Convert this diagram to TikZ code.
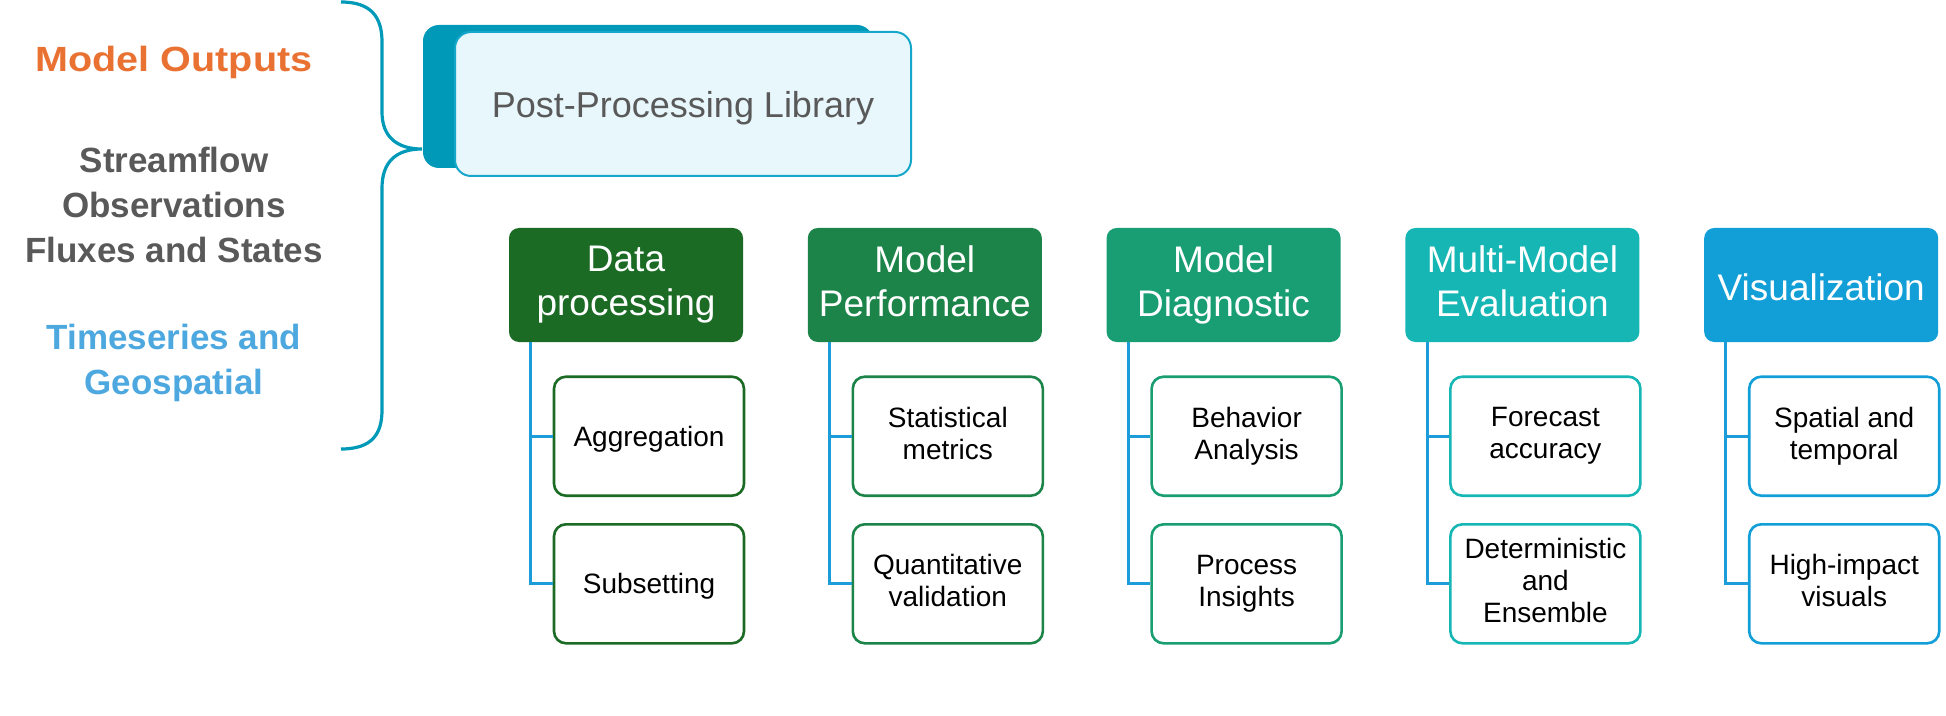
\documentclass[tikz,border=0pt]{standalone}
\usepackage{fontspec}
\setmainfont{Liberation Sans}
\usepackage{tikz}
\usetikzlibrary{positioning}
\definecolor{pplteal}{HTML}{009AB8}
\definecolor{pplframe}{HTML}{17A7CB}
\definecolor{ppllight}{HTML}{E8F7FC}
\definecolor{outorange}{HTML}{E97132}
\definecolor{obsgray}{HTML}{595959}
\definecolor{geoblue}{HTML}{4DA8DF}
\definecolor{linkblue}{HTML}{1C9DD9}
\definecolor{colA}{HTML}{1B6B25}
\definecolor{colB}{HTML}{1C8448}
\definecolor{colC}{HTML}{189E72}
\definecolor{colD}{HTML}{16B6B5}
\definecolor{colE}{HTML}{129FD7}

\begin{document}
\begin{tikzpicture}[
    x=0.5pt, y=-0.5pt,
    node distance=32pt,
    header/.style={rectangle, fill=#1, text=white, minimum width=117pt, minimum height=57pt, align=center, rounded corners=5pt, font=\fontsize{18.5}{22}\selectfont, execute at begin node=\rule{0pt}{19.5pt}, execute at end node=\rule[-4pt]{0pt}{4pt}},
    subbox/.style={rectangle, draw=#1, fill=white, line width=1.3pt, minimum width=95pt, minimum height=59.5pt, align=center, rounded corners=6pt, font=\fontsize{14}{16}\selectfont, execute at begin node=\rule{0pt}{13pt}, execute at end node=\rule[-3pt]{0pt}{3pt}},
    srctext/.style={align=center, font=\bfseries\fontsize{17.5}{22.5}\selectfont},
    branch/.style={line width=1.5pt, linkblue},
    brace/.style={line width=1.6pt, pplteal}
]
\useasboundingbox (0,0) rectangle (1946,716);

% Inputs
\node[srctext, text=outorange] (outputs) at (174,62) {\addfontfeatures{FakeStretch=1.13}Model Outputs};
\node[srctext, text=obsgray] (obs) at (174,205) {Streamflow\\Observations\\Fluxes and States};
\node[srctext, text=geoblue] (geo) at (174,363) {Timeseries and\\Geospatial};

% Library
\node[rectangle, fill=pplteal, minimum width=225pt, minimum height=71.5pt, rounded corners=8pt] (ppback) at (648,96.5) {};
\node[rectangle, draw=pplframe, fill=ppllight, line width=1pt, minimum width=228pt, minimum height=72pt, rounded corners=8pt, text=obsgray, text depth=0pt, font=\fontsize{18}{20}\selectfont] (pplib) at (683,104) {Post-Processing Library};
\coordinate (tip) at (422,149);
\draw[brace] (341,2) .. controls (372,2) and (382,18) .. (382,42) -- (382,112)
    .. controls (382,136) and (396,149) .. (tip)
    .. controls (396,149) and (382,162) .. (382,188) -- (382,410)
    .. controls (382,434) and (372,449) .. (341,449);

% Modules
\node[header=colA] (data) at (626,285) {Data\\processing};
\node[header=colB, right=of data] (perf) {Model\\Performance};
\node[header=colC, right=of perf] (diag) {Model\\Diagnostic};
\node[header=colD, right=of diag] (multi) {Multi-Model\\Evaluation};
\node[header=colE, right=of multi] (vis) {Visualization};

% Tasks
\node[subbox=colA, below=16.5pt of data, xshift=11.5pt] (aggr) {Aggregation};
\node[subbox=colA, below=13pt of aggr] (subset) {Subsetting};
\node[subbox=colB, below=16.5pt of perf, xshift=11.5pt] (stats) {Statistical\\metrics};
\node[subbox=colB, below=13pt of stats] (quant) {Quantitative\\validation};
\node[subbox=colC, below=16.5pt of diag, xshift=11.5pt] (behav) {Behavior\\Analysis};
\node[subbox=colC, below=13pt of behav] (insight) {Process\\Insights};
\node[subbox=colD, below=16.5pt of multi, xshift=11.5pt] (fcst) {Forecast\\accuracy};
\node[subbox=colD, below=13pt of fcst] (ens) {Deterministic\\and\\Ensemble};
\node[subbox=colE, below=16.5pt of vis, xshift=11.5pt] (spat) {Spatial and\\temporal};
\node[subbox=colE, below=13pt of spat] (impact) {High-impact\\visuals};

% Links
\draw[branch] ([xshift=11pt, yshift=-1.5pt]data.south west) |- (subset.west);
\draw[branch] ([xshift=11pt]data.south west) |- (aggr.west);
\draw[branch] ([xshift=11pt, yshift=-1.5pt]perf.south west) |- (quant.west);
\draw[branch] ([xshift=11pt]perf.south west) |- (stats.west);
\draw[branch] ([xshift=11pt, yshift=-1.5pt]diag.south west) |- (insight.west);
\draw[branch] ([xshift=11pt]diag.south west) |- (behav.west);
\draw[branch] ([xshift=11pt, yshift=-1.5pt]multi.south west) |- (ens.west);
\draw[branch] ([xshift=11pt]multi.south west) |- (fcst.west);
\draw[branch] ([xshift=11pt, yshift=-1.5pt]vis.south west) |- (impact.west);
\draw[branch] ([xshift=11pt]vis.south west) |- (spat.west);

\end{tikzpicture}
\end{document}
